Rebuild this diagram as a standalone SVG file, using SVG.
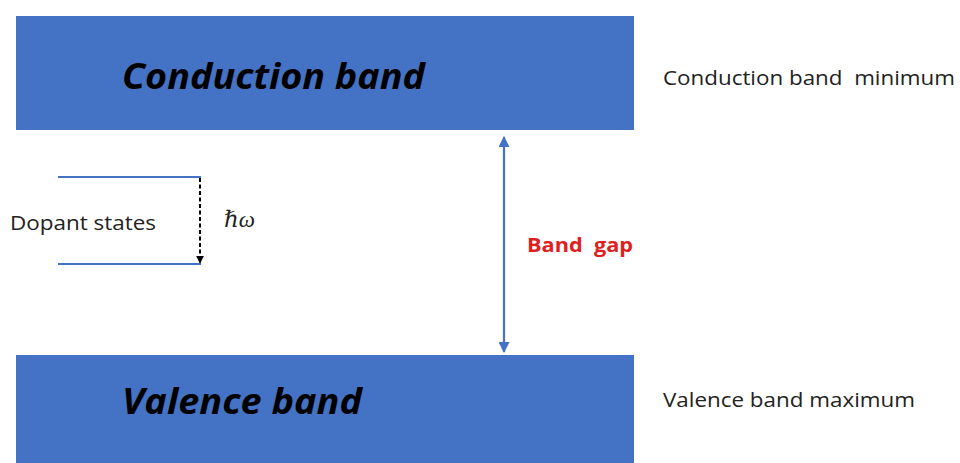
<svg xmlns="http://www.w3.org/2000/svg" width="960" height="463" viewBox="0 0 960 463">
<style>
.band{fill:#4472c4;}
.bl{font-family:"Open Sans","Liberation Sans",sans-serif;font-weight:bold;font-style:italic;font-size:36px;fill:#000;}
.side{font-family:"Open Sans","Liberation Sans",sans-serif;font-size:20px;fill:#222;}
.lvl{stroke:#4472c4;stroke-width:2;}
</style>
<defs>
<marker id="ab" viewBox="0 0 10 10" refX="9" refY="5" markerWidth="5" markerHeight="5" orient="auto-start-reverse"><path d="M0,0 L10,5 L0,10 z" fill="#4472c4"/></marker>
<marker id="ak" viewBox="0 0 10 10" refX="9" refY="5" markerWidth="4" markerHeight="4" orient="auto"><path d="M0,0 L10,5 L0,10 z" fill="#000"/></marker>
</defs>
<rect width="960" height="463" fill="#fff"/>
<g id="conduction">
<rect class="band" x="16" y="16" width="618" height="114"/>
<text class="bl" x="122" y="89" textLength="303" lengthAdjust="spacingAndGlyphs">Conduction band</text>
</g>
<g id="valence">
<rect class="band" x="16" y="355" width="618" height="108"/>
<text class="bl" x="122" y="414" textLength="240" lengthAdjust="spacingAndGlyphs">Valence band</text>
</g>
<g id="cbm"><text class="side" x="663" y="85" textLength="292" lengthAdjust="spacingAndGlyphs" xml:space="preserve">Conduction band  minimum</text></g>
<g id="vbm"><text class="side" x="663" y="407" textLength="252" lengthAdjust="spacingAndGlyphs">Valence band maximum</text></g>
<g id="dopant">
<line class="lvl" x1="58" y1="177" x2="201" y2="177"/>
<line class="lvl" x1="58" y1="264" x2="201" y2="264"/>
<text class="side" x="10" y="230" textLength="146" lengthAdjust="spacingAndGlyphs">Dopant states</text>
</g>
<g id="gaplabel"><text x="527" y="252" font-family="Open Sans,Liberation Sans,sans-serif" font-weight="bold" font-size="19" fill="#e02020" textLength="106" lengthAdjust="spacingAndGlyphs" xml:space="preserve">Band  gap</text></g>
<g id="hw"><text x="224" y="227" font-family="Liberation Serif,DejaVu Serif,serif" font-style="italic" font-size="23" fill="#222">ℏω</text></g>
<g id="connectors">
<line x1="504" y1="137" x2="504" y2="352" stroke="#4472c4" stroke-width="2.2" marker-start="url(#ab)" marker-end="url(#ab)"/>
<line x1="200" y1="178" x2="200" y2="263" stroke="#000" stroke-width="2" stroke-dasharray="4,2.5" marker-end="url(#ak)"/>
</g>
</svg>
